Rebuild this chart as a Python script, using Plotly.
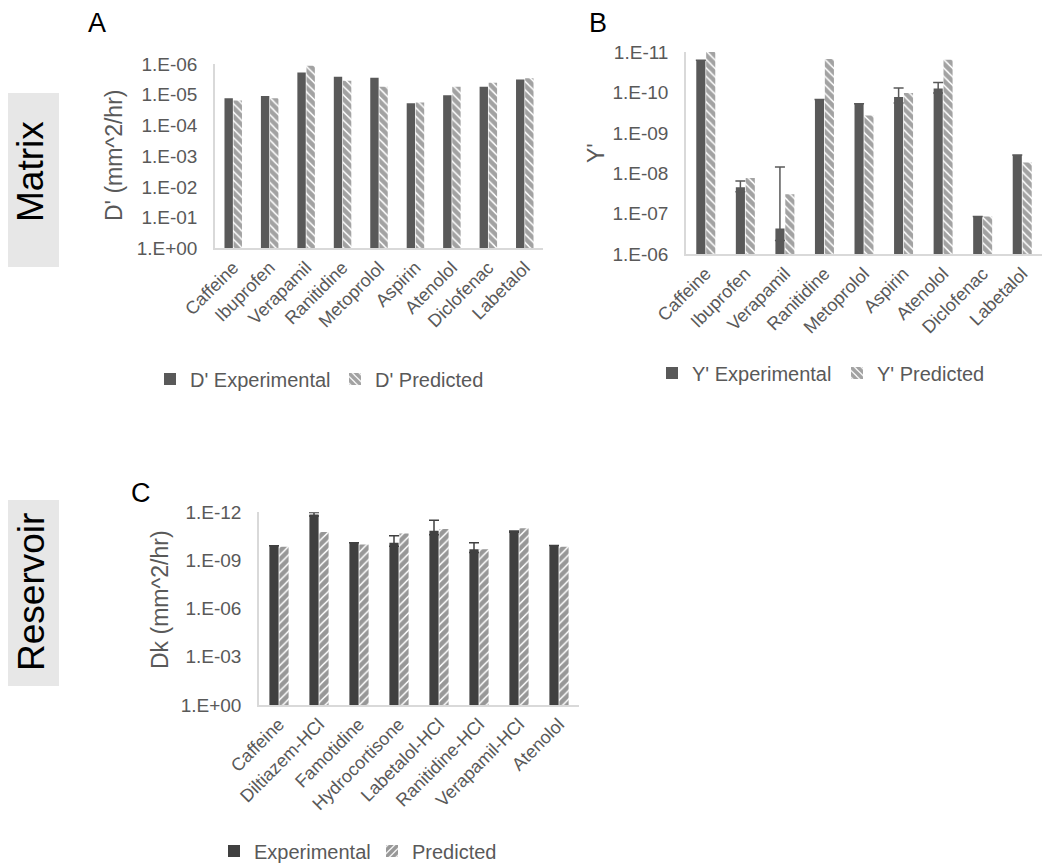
import plotly.graph_objects as go

# The page body adds an 8px offset; the figure is sized to fit the window.
OFF = 8
W, H = 1050 - OFF, 867 - OFF
FONT = "Arial, Liberation Sans, sans-serif"
GRAY = "#595959"
DARK = "#404040"
HATCH_AB = "#454545"
HATCH_C = "#303030"
AXC = "#d9d9d9"

# ---------------- data ----------------
drugs_a = ["Caffeine", "Ibuprofen", "Verapamil", "Ranitidine", "Metoprolol",
           "Aspirin", "Atenolol", "Diclofenac", "Labetalol"]
d_exp = [1.3e-5, 1.1e-5, 1.9e-6, 2.6e-6, 2.8e-6, 1.9e-5, 1.05e-5, 5.5e-6, 3.2e-6]
d_pred = [1.55e-5, 1.3e-5, 1.15e-6, 3.5e-6, 5.5e-6, 1.8e-5, 5.5e-6, 4.1e-6, 2.9e-6]

drugs_b = ["Caffeine", "Ibuprofen", "Verapamil", "Ranitidine", "Metoprolol",
           "Aspirin", "Atenolol", "Diclofenac", "Labetalol"]
y_exp = [1.6e-11, 2.2e-8, 2.3e-7, 1.5e-10, 1.9e-10, 1.3e-10, 8.0e-11, 1.17e-7, 3.5e-9]
y_exp_err = [0, 6.5e-9, 2.23e-7, 0, 0, 5.2e-11, 2.3e-11, 0, 0]
y_pred = [1.0e-11, 1.3e-8, 3.3e-8, 1.5e-11, 3.7e-10, 1.03e-10, 1.55e-11, 1.17e-7, 5.4e-9]

drugs_c = ["Caffeine", "Diltiazem-HCl", "Famotidine", "Hydrocortisone",
           "Labetalol-HCl", "Ranitidine-HCl", "Verapamil-HCl", "Atenolol"]
dk_exp = [1.23e-10, 1.35e-12, 7.9e-11, 7.9e-11, 1.4e-11, 2.0e-10, 1.6e-11, 1.15e-10]
dk_exp_err = [0, 3.3e-13, 0, 5.0e-11, 1.09e-11, 1.2e-10, 1.5e-12, 0]
dk_pred = [1.4e-10, 1.66e-11, 1.0e-10, 2.1e-11, 1.1e-11, 2.0e-10, 1.0e-11, 1.4e-10]

ticks_a = [1, 1e-1, 1e-2, 1e-3, 1e-4, 1e-5, 1e-6]
ticklab_a = ["1.E+00", "1.E-01", "1.E-02", "1.E-03", "1.E-04", "1.E-05", "1.E-06"]
ticks_b = [1e-6, 1e-7, 1e-8, 1e-9, 1e-10, 1e-11]
ticklab_b = ["1.E-06", "1.E-07", "1.E-08", "1.E-09", "1.E-10", "1.E-11"]
ticks_c = [1, 1e-3, 1e-6, 1e-9, 1e-12]
ticklab_c = ["1.E+00", "1.E-03", "1.E-06", "1.E-09", "1.E-12"]

# axis bottoms (bars grow from the bottom of the reversed log axes)
base_a, base_b, base_c = 1.0, 1e-6, 1.0


def px_x(v):
    return (v - OFF) / W


def px_y(v):
    return 1 - (v - OFF) / H


def sizes(vals, base):
    return [v - base for v in vals]


def hatch(shape, col):
    return dict(color="white", line=dict(width=0),
                pattern=dict(shape=shape, fgcolor=col, bgcolor="white",
                             size=6, solidity=0.75))


fig = go.Figure()

# ---- Panel A ----
fig.add_trace(go.Bar(x=drugs_a, y=sizes(d_exp, base_a), base=base_a,
                     name="D' Experimental", marker=dict(color=GRAY, line=dict(width=0)),
                     xaxis="x", yaxis="y", legend="legend", offsetgroup="a1"))
fig.add_trace(go.Bar(x=drugs_a, y=sizes(d_pred, base_a), base=base_a,
                     name="D' Predicted", marker=hatch("\\", HATCH_AB),
                     xaxis="x", yaxis="y", legend="legend", offsetgroup="a2"))

# ---- Panel B ----
fig.add_trace(go.Bar(x=drugs_b, y=sizes(y_exp, base_b), base=base_b,
                     name="Y' Experimental", marker=dict(color=GRAY, line=dict(width=0)),
                     error_y=dict(type="data", array=y_exp_err, symmetric=True,
                                  color=GRAY, thickness=1.5, width=5),
                     xaxis="x2", yaxis="y2", legend="legend2", offsetgroup="b1"))
fig.add_trace(go.Bar(x=drugs_b, y=sizes(y_pred, base_b), base=base_b,
                     name="Y' Predicted", marker=hatch("\\", HATCH_AB),
                     xaxis="x2", yaxis="y2", legend="legend2", offsetgroup="b2"))

# ---- Panel C ----
fig.add_trace(go.Bar(x=drugs_c, y=sizes(dk_exp, base_c), base=base_c,
                     name="Experimental", marker=dict(color=DARK, line=dict(width=0)),
                     error_y=dict(type="data", array=dk_exp_err, symmetric=True,
                                  color=DARK, thickness=1.5, width=5),
                     xaxis="x3", yaxis="y3", legend="legend3", offsetgroup="c1"))
fig.add_trace(go.Bar(x=drugs_c, y=sizes(dk_pred, base_c), base=base_c,
                     name="Predicted", marker=hatch("/", HATCH_C),
                     xaxis="x3", yaxis="y3", legend="legend3", offsetgroup="c2"))

tickfont = dict(family=FONT, size=19, color=GRAY)
xtickfont = dict(family=FONT, size=18, color=GRAY)


def xax(domain, anchor):
    return dict(domain=domain, anchor=anchor, type="category", showline=True,
                linecolor=AXC, linewidth=1.5, ticks="", tickangle=-45,
                tickfont=xtickfont, showgrid=False, zeroline=False, automargin=False)


def yax(domain, anchor, rng, tv, tt):
    return dict(domain=domain, anchor=anchor, type="log", range=rng, showline=True,
                linecolor=AXC, linewidth=1.5, ticks="", tickvals=tv, ticktext=tt,
                tickfont=tickfont, showgrid=False, zeroline=False, ticklabelstandoff=12,
                automargin=False)


legend_common = dict(orientation="h", font=dict(family=FONT, size=20, color=GRAY),
                     bgcolor="rgba(0,0,0,0)", xanchor="left", yanchor="middle",
                     entrywidthmode="pixels", itemclick=False, itemdoubleclick=False)

fig.update_layout(
    width=W, height=H,
    margin=dict(l=0, r=0, t=0, b=0, autoexpand=False),
    paper_bgcolor="white", plot_bgcolor="white",
    font=dict(family=FONT, color=GRAY),
    barmode="group", bargap=0.5, bargroupgap=0.08,
    xaxis=xax([px_x(215), px_x(543)], "y"),
    yaxis=yax([px_y(248.3), px_y(64)], "x", [0, -6], ticks_a, ticklab_a),
    xaxis2=xax([px_x(686), px_x(1042)], "y2"),
    yaxis2=yax([px_y(254.3), px_y(52)], "x2", [-6, -11], ticks_b, ticklab_b),
    xaxis3=xax([px_x(259), px_x(579)], "y3"),
    yaxis3=yax([px_y(705), px_y(512.3)], "x3", [0, -12], ticks_c, ticklab_c),
    legend=dict(x=px_x(150), y=px_y(379), entrywidth=140, **legend_common),
    legend2=dict(x=px_x(652), y=px_y(373), entrywidth=140, **legend_common),
    legend3=dict(x=px_x(214), y=px_y(851), entrywidth=113, **legend_common),
)

# side boxes
fig.add_shape(type="rect", xref="paper", yref="paper", x0=px_x(3), x1=px_x(59),
              y0=px_y(267), y1=px_y(93), fillcolor="#e7e7e7", line=dict(width=0), layer="below")
fig.add_shape(type="rect", xref="paper", yref="paper", x0=px_x(3), x1=px_x(59),
              y0=px_y(686), y1=px_y(500), fillcolor="#e7e7e7", line=dict(width=0), layer="below")


def ann(text, x, y, size, color, angle=0):
    fig.add_annotation(text=text, x=px_x(x), y=px_y(y), xref="paper", yref="paper",
                       showarrow=False, textangle=angle, xanchor="center", yanchor="middle",
                       font=dict(family=FONT, size=size, color=color))


ann("Matrix", 31, 172, 37, "#000000", -90)
ann("Reservoir", 31, 592, 37, "#000000", -90)
ann("A", 97, 23, 27, "#000000")
ann("B", 598, 23, 27, "#000000")
ann("C", 141, 493, 27, "#000000")
ann("D' (mm^2/hr)", 114, 156, 23, GRAY, -90)
ann("Y'", 596, 153, 23, GRAY, -90)
ann("Dk (mm^2/hr)", 160, 600, 23, GRAY, -90)

fig.write_html("out.html")
